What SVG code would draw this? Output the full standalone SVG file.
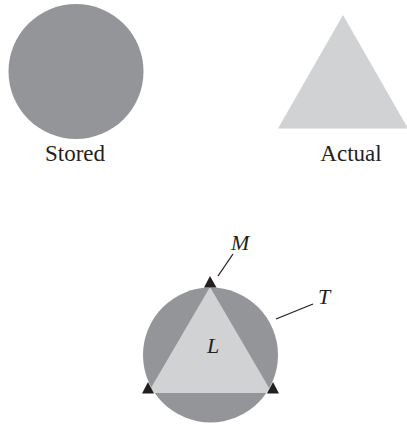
<svg xmlns="http://www.w3.org/2000/svg" width="407" height="425" viewBox="0 0 407 425">
<style>
.dark{fill:#939598}
.light{fill:#d1d2d4}
.mk{fill:#231f20}
.lbl{font-family:"Liberation Serif","Times New Roman",serif;font-size:23px;fill:#231f20}
.it{font-family:"Liberation Serif","Times New Roman",serif;font-size:22px;font-style:italic;fill:#231f20}
.ln{stroke:#231f20;stroke-width:1.3;fill:none}
</style>
<g id="stored">
<circle class="dark" cx="76" cy="71.5" r="67.5"/>
<text class="lbl" x="75" y="161" text-anchor="middle">Stored</text>
</g>
<g id="actual">
<polygon class="light" points="343,15 278,128.5 408,128.5"/>
<text class="lbl" x="351" y="161" text-anchor="middle">Actual</text>
</g>
<g id="combined">
<circle class="dark" cx="210.5" cy="355" r="67.5"/>
<polygon class="light" points="210,287 148,393 272,393"/>
<polygon class="mk" points="210,276 204,287.5 216.5,287.5"/>
<polygon class="mk" points="148,382 142,393.5 154,393.5"/>
<polygon class="mk" points="273,382 267,393.5 279,393.5"/>
<text class="it" x="213" y="353" text-anchor="middle">L</text>
</g>
<g id="connectors">
<line class="ln" x1="218" y1="276" x2="233" y2="254"/>
<line class="ln" x1="276" y1="319" x2="313" y2="304"/>
</g>
<g id="label-M"><text class="it" x="231" y="250">M</text></g>
<g id="label-T"><text class="it" x="318" y="304">T</text></g>
</svg>
